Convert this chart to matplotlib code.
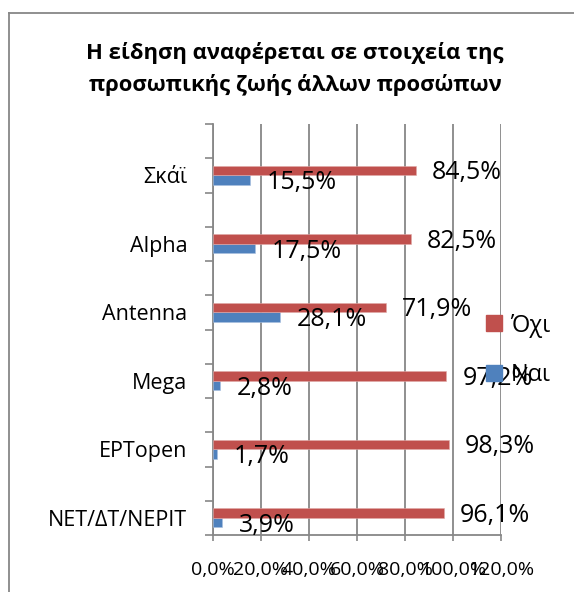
import numpy as np
import matplotlib
matplotlib.use("Agg")
import matplotlib.pyplot as plt
from matplotlib.lines import Line2D

plt.rcParams['font.family'] = ['Open Sans', 'DejaVu Sans']

# data, top to bottom as in the chart
channels = ["Σκάϊ", "Alpha", "Antenna", "Mega", "ΕΡΤopen", "ΝΕΤ/ΔΤ/ΝΕΡΙΤ"]
ochi = [84.5, 82.5, 71.9, 97.2, 98.3, 96.1]
nai = [15.5, 17.5, 28.1, 2.8, 1.7, 3.9]
xticks = [0, 20, 40, 60, 80, 100, 120]
title_lines = ["Η είδηση αναφέρεται σε στοιχεία της",
               "προσωπικής ζωής άλλων προσώπων"]

red = "#C0504D"
blue = "#4F81BD"
grey = "#878787"

W, H = 574, 592
fig = plt.figure(figsize=(W / 100, H / 100), dpi=100)
ax = fig.add_axes([213 / W, 1 - 535 / H, (501 - 213) / W, (535 - 124) / H])

# bottom category at y=0
pos = np.arange(len(channels))[::-1]
bh = 0.14
ax.barh(pos - bh / 2, nai, height=bh, color=blue, edgecolor="#a9c0e0", linewidth=0.4, label="Ναι", zorder=3)
ax.barh(pos + bh / 2, ochi, height=bh, color=red, edgecolor="#e0a9a8", linewidth=0.4, label="Όχι", zorder=3)

def fmt(v):
    return ("%.1f%%" % v).replace(".", ",")

for p, v in zip(pos, ochi):
    ax.annotate(fmt(v), (v, p + bh / 2), xytext=(11.5, -1.5), textcoords="offset points",
                fontsize=18, va="center", ha="left", zorder=4)
for p, v in zip(pos, nai):
    ax.annotate(fmt(v), (v, p - bh / 2), xytext=(12, -2), textcoords="offset points",
                fontsize=18, va="center", ha="left", zorder=4)

ax.set_xlim(0, 120)
ax.set_ylim(-0.25, 5.75)
ax.set_xticks(xticks)
ax.set_xticklabels([("%.1f%%" % t).replace(".", ",") for t in xticks], fontsize=14)
ax.tick_params(axis="x", length=4, width=1.2, color=grey, pad=15)
ax.xaxis.grid(True, color=grey, linewidth=1.3, zorder=0)

ax.set_yticks(pos)
ax.set_yticklabels(channels, fontsize=15.5)
ax.tick_params(axis="y", which="major", length=0, pad=18.5)
ax.set_yticks(np.arange(-0.25, 5.76, 0.5), minor=True)
ax.tick_params(axis="y", which="minor", length=6, width=1.2, color=grey)

for s in ["top", "right"]:
    ax.spines[s].set_visible(False)
for s in ["left", "bottom"]:
    ax.spines[s].set_color(grey)
    ax.spines[s].set_linewidth(1.3)

handles = [plt.Rectangle((0, 0), 1, 1, color=red), plt.Rectangle((0, 0), 1, 1, color=blue)]
leg = ax.legend(handles, ["Όχι", "Ναι"], loc="center left",
                bbox_to_anchor=(486 / W, 1 - 350.5 / H), bbox_transform=fig.transFigure,
                frameon=False, fontsize=17, handlelength=0.68, handleheight=0.68,
                handletextpad=0.35, labelspacing=1.1, borderpad=0, borderaxespad=0)
leg.set_zorder(10)

fig.text(295 / W, 1 - 59 / H, title_lines[0], ha="center", va="baseline",
         fontsize=15.8, fontweight="bold")
fig.text(295 / W, 1 - 91 / H, title_lines[1], ha="center", va="baseline",
         fontsize=15.8, fontweight="bold")

# chart area border (right and bottom edges fall outside the picture)
fig.add_artist(Line2D([9 / W, 1.0], [1 - 13 / H, 1 - 13 / H], transform=fig.transFigure,
                      color=grey, linewidth=1.3))
fig.add_artist(Line2D([9 / W, 9 / W], [0.0, 1 - 13 / H], transform=fig.transFigure,
                      color=grey, linewidth=1.3))

fig.savefig("out.png", dpi=100)
